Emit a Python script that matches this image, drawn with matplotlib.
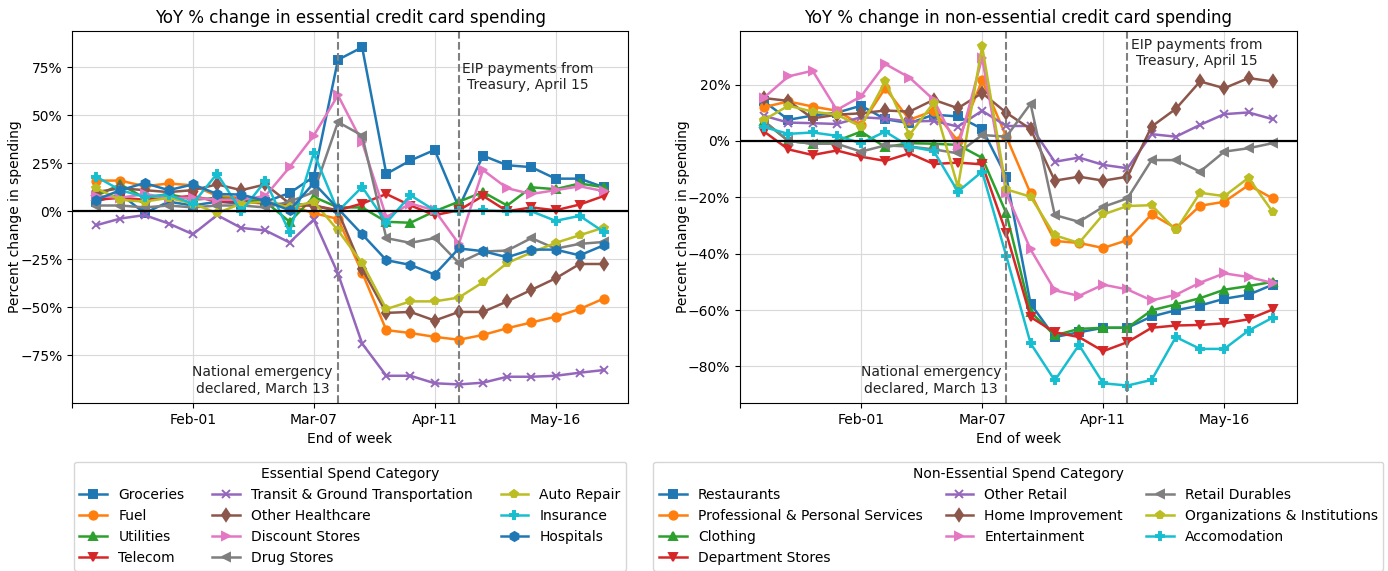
"""YoY % change in essential vs non-essential credit card spending, weekly."""

import numpy as np
import pandas as pd
import matplotlib
matplotlib.use("Agg")
import matplotlib.pyplot as plt
from matplotlib.ticker import PercentFormatter
from matplotlib.transforms import blended_transform_factory

WEEKS = pd.date_range("2020-01-04", periods=22, freq="7D")
EMERGENCY = pd.Timestamp("2020-03-14")
EIP = pd.Timestamp("2020-04-18")

# essential categories (values in %)
groceries = [5, 9, -1, 5, 3, 5, 4, 5, 9.5, 18, 79, 85.5, 19.5, 26.5, 32, 2, 29, 24, 23, 17, 17, 12.5]
fuel = [16, 16, 13, 14.5, 13.5, 8, 7, 5, 3, -1, -4, -32, -62, -63.5, -65.5, -67, -64.5, -61, -58, -55, -51, -45.5]
utilities = [8, 14, 7, 9, 6, 7, 6, 5, -5.5, 7.5, 2, 2, -5.5, -6, 0, 5, 10, 3, 12.5, 11.5, 14.5, 12.5]
telecom = [6, 7, 6, 7, 8, 5, 5, 4, 3, 3, 0.5, 4, 9, 3, -2, 0.5, 8, 0, 2, 0.5, 3.5, 8]
transit = [-7.3, -3.8, -2, -6.4, -12, -2, -8.7, -10, -16.3, -4.3, -32.5, -69, -85.8, -85.8,
           -89.7, -90.3, -89.4, -86.3, -86.3, -85.8, -84.2, -82.8]
other_healthcare = [10, 12, 11, 10, 11, 14, 11, 14, 4, 3, 0, -30, -53, -52.5, -57, -52.5,
                    -52.5, -47, -41, -35, -27.5, -27.5]
discount_stores = [8, 7, 9, 7, 7, 6, 6, 8, 23, 39.5, 60.5, 36, -3, 4, 0.5, -17, 21.5, 12, 9, 11, 13, 10.5]
drug_stores = [3, 3, 2, 3, 2, 3, 3, 2, 5, 10, 46.5, 39.5, -14, -16.5, -14, -27, -21, -20.5, -14, -19.5, -17, -16]
auto_repair = [12, 6, 5, 7, 4, -1, 4, 5, 2, 5, -10, -27, -51, -47, -47, -45, -37, -27, -21.5, -16.5, -12.5, -8.5]
insurance = [18, 11, 7.5, 8.5, 4, 19.6, 0, 15.8, -11, 30.4, 0, 12.7, -6, 8.3, 0.5, 0, 0.5, 0, 0, -5, -2.4, -10.8]
hospitals = [6, 11, 14.7, 11, 14, 9, 8.7, 5.4, 0.5, 14.7, 1.4, -12, -25.5, -28, -33, -19.4, -20.8,
             -24, -20, -20, -23, -17.7]

# non-essential categories (values in %)
restaurants = [14, 7.5, 9, 10, 12.5, 7.7, 6.3, 9.3, 8.7, 4.3, -12.7, -57.8, -69.6, -67.9, -66.3,
               -66.3, -62.3, -60.1, -58.4, -56, -54.6, -51]
prof_services = [12, 14, 12.2, 10.7, 5.7, 18.7, 7.5, 10.7, 0, 21.5, 1.5, -18.6, -35.5, -36.2, -38,
                 -35.2, -26, -31, -23, -21.6, -15.7, -20.4]
clothing = [6.9, 0, -1, 0, 3.3, -2.2, -0.8, -1, -1.4, -6, -25.7, -60.7, -69, -66.7, -66.3, -66.3,
            -60.1, -58, -55.8, -52.8, -51.5, -50]
department_stores = [3.3, -3, -5, -3.4, -5.6, -7.1, -4.4, -8.2, -7.7, -8.3, -32.8, -62.5, -67.9,
                     -69.6, -74.6, -71.4, -66.3, -65.5, -65.3, -64.7, -63.3, -59.8]
other_retail = [8.9, 6.5, 6.3, 6, 8.4, 7.9, 6.9, 7.1, 5.1, 10.7, 5.3, 5.3, -7.4, -5.9, -8.5, -9.7,
                2.4, 1.5, 5.7, 9.5, 10.1, 7.7]
home_improvement = [15.2, 14.2, 8, 9.3, 9.8, 10.8, 10.4, 14.6, 11.6, 17, 10, 4.2, -14.1, -12.7,
                    -14.1, -12.7, 5.1, 11.4, 21.1, 18.7, 22.3, 21.1]
entertainment = [15.4, 22.9, 24.9, 11, 15.8, 27.3, 22.5, 14.6, -2.6, 29.4, -18.6, -38.5, -53, -55,
                 -51, -52.7, -56.6, -54.6, -50.3, -47, -48.3, -50.4]
retail_durables = [7, 0, -1, -1, -3.8, -1.6, -2, -3, -4.4, 2.1, 1.5, 13.2, -26.3, -28.7, -23.4,
                   -20.4, -6.8, -6.8, -10.9, -3.8, -2.6, -0.8]
organizations = [7.5, 12.5, 10.4, 9.3, 5.1, 21.1, 2.1, 13.6, -16.3, 33.6, -17.2, -19.8, -33.5,
                 -36.2, -26.1, -23.1, -22.8, -31.7, -18.4, -19.6, -13.1, -25.2]
accomodation = [4.9, 2.5, 3, 1.8, -0.8, 3.3, -2, -3.6, -18, -10.9, -40.9, -71.8, -85, -72.4, -86,
                -86.8, -84.8, -69.6, -73.8, -73.8, -67.3, -62.7]

ESSENTIAL = [
    ("Groceries", groceries, "C0", "s"),
    ("Fuel", fuel, "C1", "o"),
    ("Utilities", utilities, "C2", "^"),
    ("Telecom", telecom, "C3", "v"),
    ("Transit & Ground Transportation", transit, "C4", "x"),
    ("Other Healthcare", other_healthcare, "C5", "d"),
    ("Discount Stores", discount_stores, "C6", ">"),
    ("Drug Stores", drug_stores, "C7", "<"),
    ("Auto Repair", auto_repair, "C8", "p"),
    ("Insurance", insurance, "C9", "P"),
    ("Hospitals", hospitals, "C0", "h"),
]
NON_ESSENTIAL = [
    ("Restaurants", restaurants, "C0", "s"),
    ("Professional & Personal Services", prof_services, "C1", "o"),
    ("Clothing", clothing, "C2", "^"),
    ("Department Stores", department_stores, "C3", "v"),
    ("Other Retail", other_retail, "C4", "x"),
    ("Home Improvement", home_improvement, "C5", "d"),
    ("Entertainment", entertainment, "C6", ">"),
    ("Retail Durables", retail_durables, "C7", "<"),
    ("Organizations & Institutions", organizations, "C8", "p"),
    ("Accomodation", accomodation, "C9", "P"),
]

TICK_DATES = pd.to_datetime(["2019-12-28", "2020-02-01", "2020-03-07", "2020-04-11", "2020-05-16"])
TICK_LABELS = ["", "Feb-01", "Mar-07", "Apr-11", "May-16"]


def draw_panel(ax, series, title, legend_title, ylim, yticks, eip_y, colspace):
    for name, vals, color, marker in series:
        ms = 6.5 if marker in ("d", "h") else 6
        ax.plot(WEEKS, vals, marker=marker, color=color, label=name, lw=1.8, ms=ms, mew=1.4)
    ax.axhline(0, color="black", lw=1.6)
    for d in (EMERGENCY, EIP):
        ax.axvline(d, color="gray", ls="--", lw=1.5)
    ax.set_xlim(pd.Timestamp("2019-12-28"), pd.Timestamp("2020-06-06"))
    ax.set_ylim(*ylim)
    ax.set_xticks(TICK_DATES)
    ax.set_xticklabels(TICK_LABELS)
    ax.set_yticks(yticks)
    ax.yaxis.set_major_formatter(PercentFormatter(100, decimals=0))
    ax.grid(color="#d9d9d9", lw=0.8)
    ax.set_axisbelow(True)
    ax.set_title(title, fontsize=12)
    ax.set_xlabel("End of week", fontsize=10)
    ax.set_ylabel("Percent change in spending", fontsize=10, labelpad=-1.5)
    trans = blended_transform_factory(ax.transData, ax.transAxes)
    ax.text(EMERGENCY - pd.Timedelta(days=1.5), 0.02, "National emergency\ndeclared, March 13",
            transform=trans, ha="right", va="bottom", multialignment="center", fontsize=10,
            color="#222222")
    ax.text(EIP + pd.Timedelta(days=1), eip_y, "EIP payments from\nTreasury, April 15",
            ha="left", va="top", multialignment="center", fontsize=10, color="#222222")
    ax.legend(title=legend_title, loc="upper center", bbox_to_anchor=(0.5, -0.139), ncol=3,
              fontsize=10, title_fontsize=10, columnspacing=colspace)


def main():
    fig = plt.figure(figsize=(13.88, 5.71), dpi=100)
    ax1 = fig.add_axes([0.0519, 0.2942, 0.4006, 0.6515])
    ax2 = fig.add_axes([0.5331, 0.2942, 0.4013, 0.6515])
    draw_panel(ax1, ESSENTIAL, "YoY % change in essential credit card spending",
               "Essential Spend Category", (-100, 94), [-75, -50, -25, 0, 25, 50, 75], 78, 2.0)
    draw_panel(ax2, NON_ESSENTIAL, "YoY % change in non-essential credit card spending",
               "Non-Essential Spend Category", (-93, 39), [-80, -60, -40, -20, 0, 20], 36.5, 1.65)
    fig.savefig("out.png", dpi=100)
    plt.close(fig)


if __name__ == "__main__":
    main()
